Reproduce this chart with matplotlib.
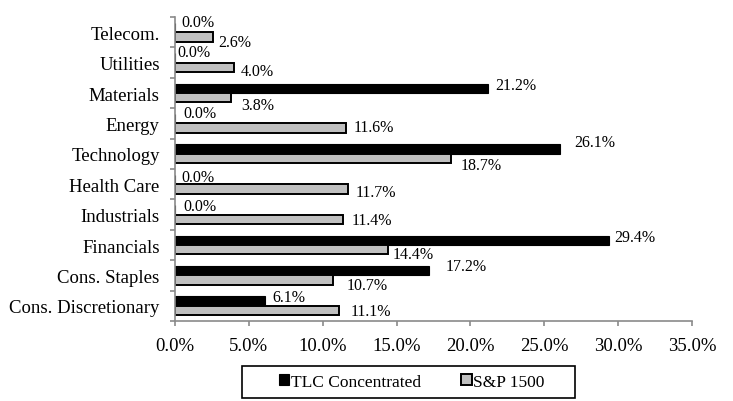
import matplotlib.pyplot as plt
from matplotlib.patches import Rectangle
import numpy as np

plt.rcParams['font.family'] = ['Liberation Serif', 'DejaVu Serif']

# Sector weights (%), listed top to bottom
sectors = ['Telecom.', 'Utilities', 'Materials', 'Energy', 'Technology',
           'Health Care', 'Industrials', 'Financials', 'Cons. Staples',
           'Cons. Discretionary']
tlc = [0.0, 0.0, 21.2, 0.0, 26.1, 0.0, 0.0, 29.4, 17.2, 6.1]
sp1500 = [2.6, 4.0, 3.8, 11.6, 18.7, 11.7, 11.4, 14.4, 10.7, 11.1]
x_ticks = [0, 5, 10, 15, 20, 25, 30, 35]

# label nudges in pixels (dx, dy) from each bar end
tlc_offsets = [(6, 6), (2, 6), (7, 3), (8, 6), (14, 7),
               (6, 3), (8, 4), (5, 3), (17, 5), (7, 4)]
sp_offsets = [(5, -5), (7, -4), (10, -7), (7, 1), (9, -6),
              (8, -3), (8, -1), (5, -4), (14, -5), (12, 0)]

fig = plt.figure(figsize=(7.33, 4.02), dpi=100)
ax = fig.add_axes([0.2387, 0.199, 0.7053, 0.756])

n = len(sectors)
y = np.arange(n)[::-1]
h = 0.31

ax.barh(y + h / 2, tlc, height=h, color='black', edgecolor='black',
        linewidth=0.8, label='TLC Concentrated')
ax.barh(y - h / 2, sp1500, height=h, color='#c0c0c0', edgecolor='black',
        linewidth=1.4, label='S&P 1500')

for i in range(n):
    ax.annotate(f'{tlc[i]:.1f}%', (tlc[i], y[i] + h / 2),
                xytext=tlc_offsets[i], textcoords='offset pixels',
                ha='left', va='center', fontsize=11.5)
    ax.annotate(f'{sp1500[i]:.1f}%', (sp1500[i], y[i] - h / 2),
                xytext=sp_offsets[i], textcoords='offset pixels',
                ha='left', va='center', fontsize=11.5)

ax.set_xlim(0, 35)
ax.set_ylim(-0.5, n - 0.5)
ax.set_xticks(x_ticks)
ax.set_xticklabels([f'{v:.1f}%' for v in x_ticks], fontsize=13.5)
ax.set_yticks(y)
ax.set_yticklabels(sectors, fontsize=13.5)
ax.set_yticks(np.arange(n + 1) - 0.5, minor=True)

for s in ['top', 'right']:
    ax.spines[s].set_visible(False)
for s in ['left', 'bottom']:
    ax.spines[s].set_color('#8a8a8a')
    ax.spines[s].set_linewidth(1.2)

ax.tick_params(axis='y', which='major', length=0, pad=11)
ax.tick_params(axis='y', which='minor', length=3.6, width=1.2, color='#8a8a8a')
ax.tick_params(axis='x', length=3.6, width=1.2, color='#8a8a8a', pad=8)

# legend entries without frame, then a wide box around them
fig.legend(loc='center', bbox_to_anchor=(0.562, 0.047), ncol=2,
           fontsize=12.5, frameon=False, handlelength=0.6, handleheight=0.6,
           handletextpad=0.1, columnspacing=2.3, borderpad=0,
           borderaxespad=0)
fig.patches.append(Rectangle((0.330, 0.0075), 0.4543, 0.0796,
                             transform=fig.transFigure, fill=False,
                             edgecolor='black', linewidth=1.2))

fig.savefig('out.png', dpi=100)
